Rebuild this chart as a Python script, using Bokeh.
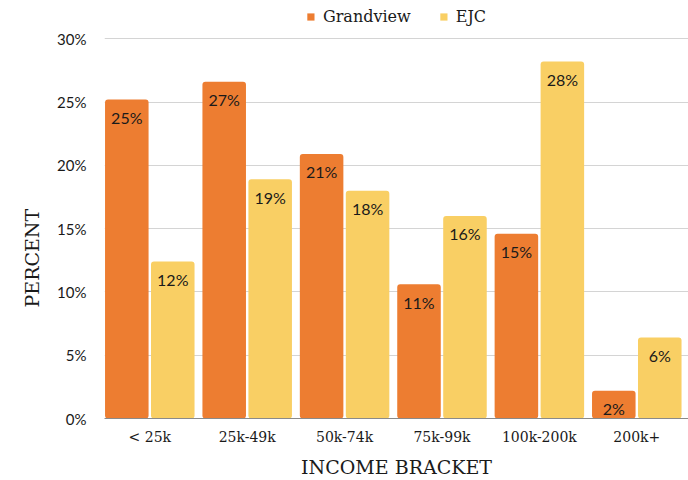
from bokeh.plotting import figure
from bokeh.models import (ColumnDataSource, FixedTicker, PrintfTickFormatter,
                          Legend, LegendItem, Title)
from bokeh.embed import file_html
from bokeh.resources import INLINE
from bokeh.core.properties import value
import numpy as np

categories = ["< 25k", "25k-49k", "50k-74k", "75k-99k", "100k-200k", "200k+"]
series_names = ["Grandview", "EJC"]
grandview = [25.2, 26.6, 20.9, 10.6, 14.6, 2.2]
ejc = [12.4, 18.9, 18.0, 16.0, 28.2, 6.4]
y_ticks = [0, 5, 10, 15, 20, 25, 30]

ORANGE = "#ED7D31"
YELLOW = "#F9CF64"
SERIF = "DejaVu Serif"
SANS = "Lato"
TXT = "#1a1a1a"

idx = np.arange(len(categories))
OFF = 0.236
W = 0.447

p = figure(width=688, height=480, output_backend="svg", toolbar_location=None,
           x_range=(-0.465, 5.531), y_range=(0, 33.02),
           min_border_left=104, min_border_right=0, min_border_top=0,
           min_border_bottom=62)

renderers = []
for vals, off, col in ((grandview, -OFF, ORANGE), (ejc, OFF, YELLOW)):
    src = ColumnDataSource(dict(x=idx + off, top=vals,
                                label=[f"{v:.0f}%" for v in vals]))
    r = p.vbar(x="x", top="top", width=W, source=src, fill_color=col,
               line_color=None, border_radius=3)
    renderers.append(r)
    p.text(x="x", y="top", text="label", source=src, text_align="center",
           text_baseline="middle", y_offset=18, text_font=value(SANS),
           text_font_size="16px", text_color=TXT)

legend = Legend(items=[LegendItem(label=n, renderers=[r])
                       for n, r in zip(series_names, renderers)],
                orientation="horizontal", location="top_center",
                glyph_width=9, glyph_height=9, label_standoff=8, spacing=28,
                padding=0, margin=7, border_line_color=None,
                background_fill_alpha=0,
                label_text_font=SERIF, label_text_font_size="16px",
                label_text_color=TXT)
p.add_layout(legend)

p.yaxis.ticker = FixedTicker(ticks=y_ticks)
p.yaxis.formatter = PrintfTickFormatter(format="%d%%")
p.yaxis.axis_line_color = None
p.yaxis.major_tick_line_color = None
p.yaxis.minor_tick_line_color = None
p.yaxis.major_label_standoff = 12
p.yaxis.major_label_text_font = SANS
p.yaxis.major_label_text_font_size = "15px"
p.yaxis.major_label_text_color = TXT

p.xaxis.ticker = FixedTicker(ticks=[int(i) for i in idx])
p.xaxis.major_label_overrides = {int(i): c for i, c in zip(idx, categories)}
p.xaxis.axis_line_color = "#8a8a8a"
p.xaxis.major_tick_line_color = None
p.xaxis.minor_tick_line_color = None
p.xaxis.major_label_standoff = 4
p.xaxis.major_label_text_font = SERIF
p.xaxis.major_label_text_font_size = "14px"
p.xaxis.major_label_text_color = TXT
p.xaxis.axis_label = "INCOME BRACKET"
p.xaxis.axis_label_text_font = SERIF
p.xaxis.axis_label_text_font_size = "19px"
p.xaxis.axis_label_text_font_style = "normal"
p.xaxis.axis_label_text_color = TXT
p.xaxis.axis_label_standoff = 8

ytitle = Title(text="PERCENT", align="left", offset=111, standoff=24,
               text_font=SERIF, text_font_size="19px",
               text_font_style="normal", text_color=TXT)
p.add_layout(ytitle, "left")

p.xgrid.visible = False
p.ygrid.grid_line_color = "#d4d4d4"
p.outline_line_color = None

open("out.html", "w").write(file_html(p, INLINE))
